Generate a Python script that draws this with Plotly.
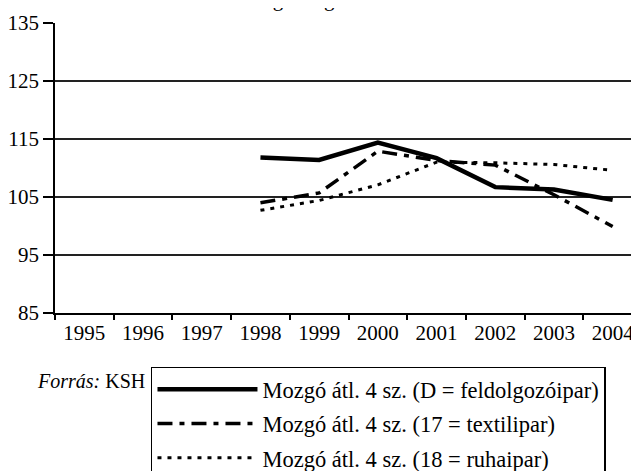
import plotly.graph_objects as go

years = ["1995", "1996", "1997", "1998", "1999", "2000", "2001", "2002", "2003", "2004"]
data_years = ["1998", "1999", "2000", "2001", "2002", "2003", "2004"]
feldolgozoipar = [111.8, 111.4, 114.4, 111.7, 106.7, 106.3, 104.5]
textilipar = [104.0, 105.7, 112.9, 111.3, 110.5, 105.4, 99.9]
ruhaipar = [102.7, 104.4, 107.1, 111.0, 110.9, 110.6, 109.6]
names = [
    "Mozgó átl. 4 sz. (D = feldolgozóipar)",
    "Mozgó átl. 4 sz. (17 = textilipar)",
    "Mozgó átl. 4 sz. (18 = ruhaipar)",
]
y_ticks = [85, 95, 105, 115, 125, 135]

FONT = "Liberation Serif"

fig = go.Figure()
fig.add_trace(go.Scatter(x=data_years, y=feldolgozoipar, mode="lines", name=names[0],
                         legendgroup="a",
                         line=dict(color="black", width=4.5)))
fig.add_trace(go.Scatter(x=data_years, y=textilipar, mode="lines", name=names[1],
                         legendgroup="b",
                         line=dict(color="black", width=3.5, dash="15px,7px,5px,7px")))
fig.add_trace(go.Scatter(x=data_years, y=ruhaipar, mode="lines", name=names[2],
                         legendgroup="c",
                         line=dict(color="black", width=3, dash="4px,6px")))

fig.add_annotation(text="Forgalmág", xref="paper", yref="paper", x=0.4, y=1.035,
                   xanchor="center", yanchor="bottom", showarrow=False,
                   font=dict(family=FONT, size=21, color="black"))
fig.add_annotation(text="<i>Forrás:</i> KSH", xref="paper", yref="paper", x=-0.034, y=-0.233,
                   xanchor="left", yanchor="middle", showarrow=False,
                   font=dict(family=FONT, size=20, color="black"))

fig.update_layout(
    width=639, height=471,
    margin=dict(l=47, r=5, t=15, b=166, autoexpand=False),
    paper_bgcolor="white", plot_bgcolor="white",
    font=dict(family=FONT, size=21, color="black"),
    showlegend=True,
    legend=dict(x=0.1635, y=-0.185, xanchor="left", yanchor="top",
                bordercolor="black", borderwidth=1.5, bgcolor="white",
                font=dict(family=FONT, size=22.5, color="black"),
                traceorder="grouped", tracegroupgap=2, itemwidth=100),
    xaxis=dict(type="category", categoryorder="array", categoryarray=years,
               tickmode="array", tickvals=years, ticktext=years,
               range=[-0.5, 9.5], tickson="boundaries",
               showline=True, linecolor="black", linewidth=1.5,
               ticks="outside", ticklen=5, tickwidth=1.5, tickcolor="black",
               showgrid=False, zeroline=False,
               tickfont=dict(family=FONT, size=21, color="black")),
    yaxis=dict(range=[85, 135], tickmode="array", tickvals=y_ticks,
               showline=True, linecolor="black", linewidth=1.5,
               ticks="outside", ticklen=10, tickwidth=1.5, tickcolor="black",
               showgrid=True, gridcolor="#222222", gridwidth=1.5, zeroline=False,
               tickfont=dict(family=FONT, size=21, color="black")),
)

fig.write_html("out.html")
